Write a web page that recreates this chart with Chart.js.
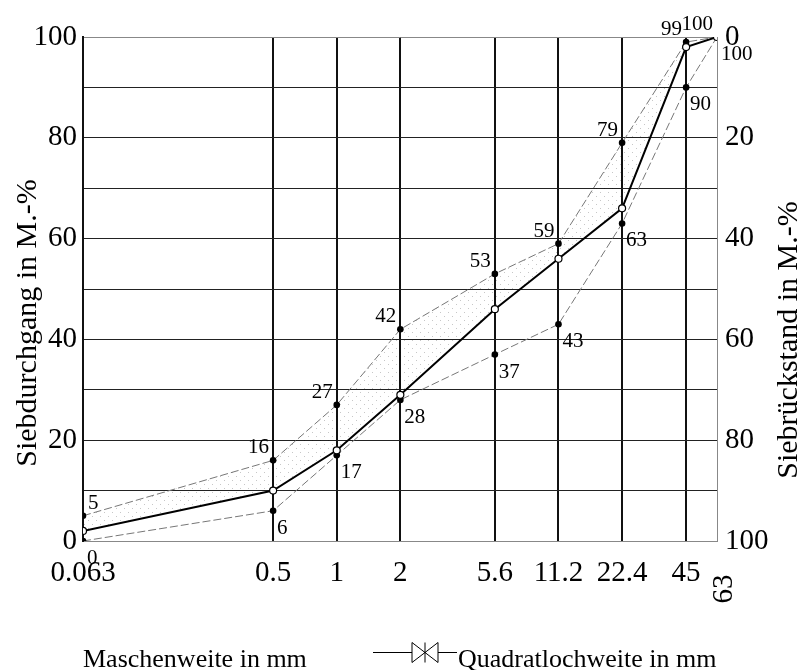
<!DOCTYPE html>
<html>
<head>
<meta charset="utf-8">
<script src="https://cdn.jsdelivr.net/npm/chart.js@4/dist/chart.umd.min.js"></script>
<style>
  html, body { margin: 0; padding: 0; background: #fff; }
  canvas { display: block; }
</style>
</head>
<body>
<canvas id="c" width="801" height="670"></canvas>
<script>
// ---- data ----
const sieveSizes   = [0.063, 0.5, 1, 2, 5.6, 11.2, 22.4, 45, 63];
const xTickLabels  = ['0.063', '0.5', '1', '2', '5.6', '11.2', '22.4', '45', '63'];
const passingMid   = [2, 10, 18, 29, 46, 56, 66, 98, 100];
const passingUpper = [5, 16, 27, 42, 53, 59, 79, 99, 100];
const passingLower = [0, 6, 17, 28, 37, 43, 63, 90, 100];
const leftTitle  = 'Siebdurchgang in M.-%';
const rightTitle = 'Siebrückstand in M.-%';
const legendLabels = ['Maschenweite in mm', 'Quadratlochweite in mm'];

const SERIF = '"Liberation Serif", "DejaVu Serif", serif';
const toPts = arr => sieveSizes.map((s, i) => ({ x: s, y: arr[i] }));

const canvas = document.getElementById('c');
const ctx = canvas.getContext('2d');

// sparse, faint stipple for the band between upper limit and middle curve
const pc = document.createElement('canvas');
pc.width = 8; pc.height = 8;
const pctx = pc.getContext('2d');
pctx.fillStyle = 'rgba(0,0,0,0.22)';
pctx.fillRect(0, 0, 1, 1);
pctx.fillRect(4, 4, 1, 1);
const stipple = ctx.createPattern(pc, 'repeat');

const lastIdx = sieveSizes.length - 1;

const annotate = {
  id: 'annotate',
  afterDatasetsDraw(chart) {
    const c = chart.ctx;
    c.save();
    c.fillStyle = '#000';
    c.font = '21px ' + SERIF;
    c.textBaseline = 'alphabetic';
    // upper limit labels
    const mu = chart.getDatasetMeta(1);
    mu.data.forEach((pt, i) => {
      const txt = String(passingUpper[i]);
      if (i === 0) { c.textAlign = 'left'; c.fillText(txt, pt.x + 5, pt.y - 7); }
      else { c.textAlign = 'right'; c.fillText(txt, pt.x - 4, pt.y - 7); }
    });
    // lower limit labels
    const ml = chart.getDatasetMeta(2);
    ml.data.forEach((pt, i) => {
      const txt = String(passingLower[i]);
      c.textAlign = 'left';
      c.fillText(txt, pt.x + 4, pt.y + 23);
    });
    c.restore();
  },
  afterDraw(chart) {
    const c = chart.ctx;
    const xs = chart.scales.x;
    c.save();
    c.fillStyle = '#000';
    // rotated last x tick label
    c.font = '29px ' + SERIF;
    c.save();
    c.translate(xs.getPixelForValue(sieveSizes[lastIdx]) + 7, 589);
    c.rotate(-Math.PI / 2);
    c.textAlign = 'center'; c.textBaseline = 'middle';
    c.fillText(xTickLabels[lastIdx], 0, 0);
    c.restore();
    // axis titles
    c.font = '30px ' + SERIF;
    c.textAlign = 'center'; c.textBaseline = 'middle';
    c.save(); c.translate(28, 323); c.rotate(-Math.PI / 2); c.fillText(leftTitle, 0, 0); c.restore();
    c.save(); c.translate(789, 340); c.rotate(-Math.PI / 2); c.fillText(rightTitle, 0, 0); c.restore();
    // legend
    c.font = '26px ' + SERIF;
    c.textAlign = 'left'; c.textBaseline = 'alphabetic';
    c.fillText(legendLabels[0], 83, 667);
    c.strokeStyle = '#000'; c.lineWidth = 1;
    c.beginPath(); c.moveTo(373, 652.5); c.lineTo(457, 652.5); c.stroke();
    const bx = 425, by = 652.5, hw = 13, hh = 10;
    c.beginPath();
    c.moveTo(bx - hw, by - hh); c.lineTo(bx - hw, by + hh); c.lineTo(bx, by); c.closePath();
    c.moveTo(bx + hw, by - hh); c.lineTo(bx + hw, by + hh); c.lineTo(bx, by); c.closePath();
    c.moveTo(bx, by - hh); c.lineTo(bx, by + hh);
    c.fillStyle = '#fff'; c.fill(); c.stroke();
    c.fillStyle = '#000';
    c.fillText(legendLabels[1], 458, 667);
    c.restore();
  }
};

new Chart(ctx, {
  type: 'line',
  data: {
    datasets: [
      {
        label: 'Sieblinie',
        data: toPts(passingMid),
        borderColor: '#000',
        borderWidth: 2,
        pointRadius: 3.5,
        pointBackgroundColor: '#fff',
        pointBorderColor: '#000',
        pointBorderWidth: 1.2,
        fill: false,
        order: 0
      },
      {
        label: 'Obere Grenze',
        data: toPts(passingUpper),
        borderColor: '#777',
        borderWidth: 1,
        borderDash: [8, 3],
        pointRadius: 3.3,
        pointBackgroundColor: '#000',
        pointBorderColor: '#000',
        pointBorderWidth: 0,
        fill: { target: 0 },
        backgroundColor: stipple,
        order: 1
      },
      {
        label: 'Untere Grenze',
        data: toPts(passingLower),
        borderColor: '#777',
        borderWidth: 1,
        borderDash: [8, 3],
        pointRadius: 3.3,
        pointBackgroundColor: '#000',
        pointBorderColor: '#000',
        pointBorderWidth: 0,
        fill: false,
        order: 2
      }
    ]
  },
  options: {
    responsive: false,
    animation: false,
    devicePixelRatio: 1,
    layout: { padding: { top: 37, left: 0, right: 0, bottom: 0 } },
    plugins: {
      legend: { display: false },
      tooltip: { enabled: false }
    },
    scales: {
      x: {
        type: 'logarithmic',
        min: sieveSizes[0],
        max: sieveSizes[lastIdx],
        afterBuildTicks: axis => { axis.ticks = sieveSizes.map(v => ({ value: v })); },
        afterFit: axis => { axis.height = 129; },
        grid: {
          drawTicks: false,
          color: c => (c.index === lastIdx ? '#888' : '#111'),
          lineWidth: c => (c.index === lastIdx ? 1 : 2)
        },
        border: { color: '#888', width: 1 },
        ticks: {
          autoSkip: false, maxRotation: 0, minRotation: 0, padding: 15,
          color: '#000',
          font: { family: SERIF, size: 29 },
          callback: (v, i) => (i === lastIdx ? '' : xTickLabels[i])
        }
      },
      y: {
        position: 'left',
        min: 0, max: 100,
        afterFit: axis => { axis.width = 83; },
        grid: {
          drawTicks: false,
          color: c => ((c.tick.value === 0 || c.tick.value === 100) ? '#888' : '#222'),
          lineWidth: 1
        },
        border: { color: '#111', width: 2 },
        ticks: {
          stepSize: 10, padding: 6, color: '#000',
          font: { family: SERIF, size: 29 },
          callback: v => (v % 20 === 0 ? String(v) : '')
        }
      },
      y2: {
        position: 'right',
        reverse: true,
        min: 0, max: 100,
        afterFit: axis => { axis.width = 84; },
        grid: { display: false, drawTicks: false },
        border: { color: '#888', width: 1 },
        ticks: {
          stepSize: 20, padding: 8, color: '#000',
          font: { family: SERIF, size: 29 }
        }
      }
    }
  },
  plugins: [annotate]
});
</script>
</body>
</html>
